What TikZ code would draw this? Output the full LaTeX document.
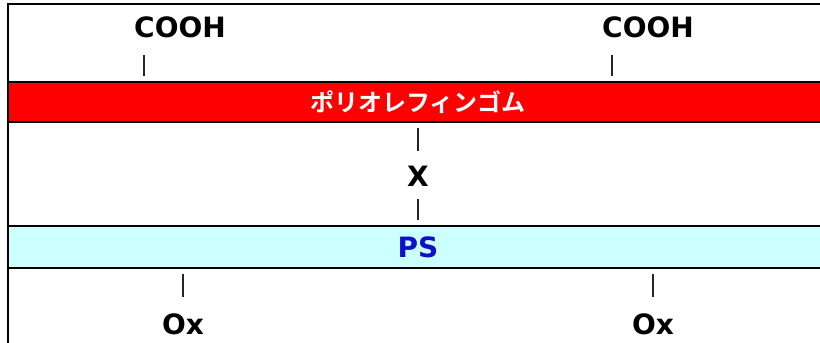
\documentclass[tikz,border=0pt]{standalone}
\usepackage{fontspec}
\setmainfont{DejaVu Sans}
\newfontfamily\jpfont{Noto Sans CJK JP}[BoldFont={* Bold}]
\definecolor{barred}{HTML}{FF0000}
\definecolor{barcyan}{HTML}{CCFFFF}
\definecolor{psblue}{HTML}{1010C8}
\begin{document}
\begin{tikzpicture}[x=1pt,y=-1pt,
  lbl/.style={font=\bfseries\fontsize{28}{28}\selectfont, inner sep=0pt, anchor=center},
  tick/.style={line width=1.6pt, black!85},
  bar/.style={draw=black, line width=1.2pt}]
\useasboundingbox (0,0) rectangle (820,343);
% frame
\draw[line width=1.2pt] (8,343) -- (8,4) -- (820,4);
% bars
\path[bar, fill=barred] (8,82) rectangle (822,122);
\path[bar, fill=barcyan] (8,226) rectangle (822,268);
\node[font=\jpfont\bfseries\fontsize{24}{24}\selectfont, text=white, inner sep=0pt] (rubber) at (418,102) {ポリオレフィンゴム};
\node[lbl, text=psblue] (ps) at (418,247) {PS};
% labels
\node[lbl] (c1) at (180,27) {COOH};
\node[lbl] (c2) at (648,27) {COOH};
\node[lbl] (x) at (418,176) {X};
\node[lbl] (o1) at (183,324) {Ox};
\node[lbl] (o2) at (653,324) {Ox};
% ticks
\coordinate (t1a) at (144,55); \coordinate (t1b) at (144,76);
\coordinate (t2a) at (612,55); \coordinate (t2b) at (612,76);
\coordinate (t3a) at (418,128); \coordinate (t3b) at (418,151);
\coordinate (t4a) at (418,199); \coordinate (t4b) at (418,220);
\coordinate (t5a) at (183,274); \coordinate (t5b) at (183,297);
\coordinate (t6a) at (653,274); \coordinate (t6b) at (653,297);
\draw[tick] (t1a) -- (t1b);
\draw[tick] (t2a) -- (t2b);
\draw[tick] (t3a) -- (t3b);
\draw[tick] (t4a) -- (t4b);
\draw[tick] (t5a) -- (t5b);
\draw[tick] (t6a) -- (t6b);
\end{tikzpicture}
\end{document}
